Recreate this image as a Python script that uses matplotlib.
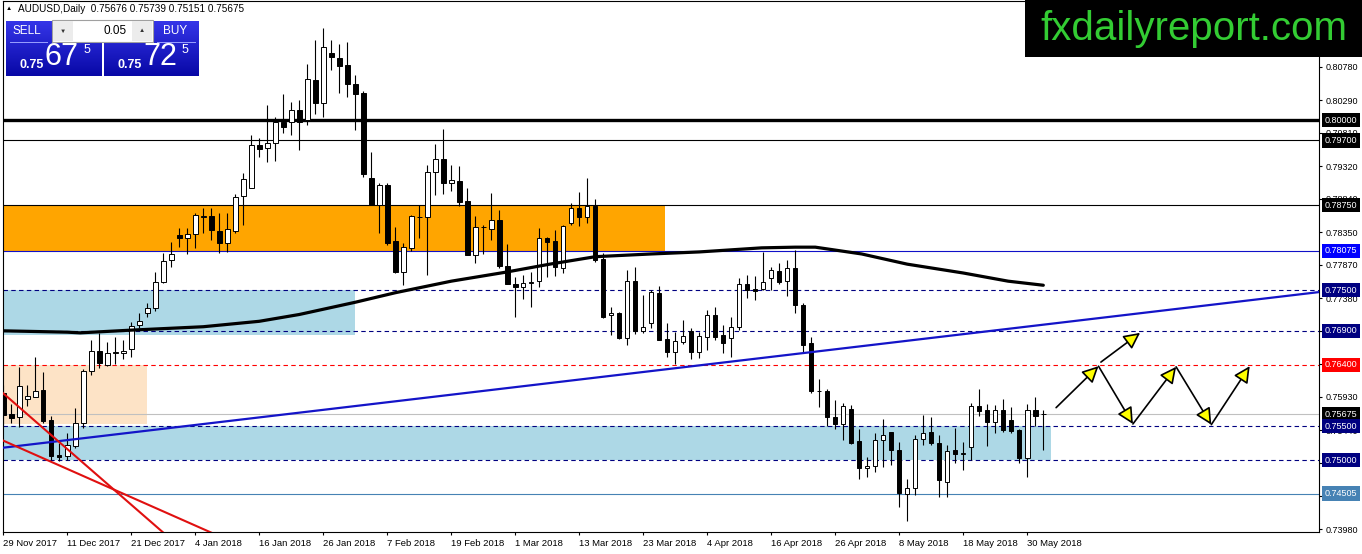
import numpy as np
import matplotlib.pyplot as plt
from matplotlib.patches import Rectangle, FancyArrowPatch
from matplotlib.colors import LinearSegmentedColormap

plt.rcParams['font.family'] = ['Liberation Sans', 'DejaVu Sans']

# AUDUSD daily candles, 29 Nov 2017 .. 1 Jun 2018
opens = [0.7599, 0.7568, 0.7563, 0.7590, 0.7593, 0.7603, 0.7559, 0.7507, 0.7506, 0.7521,
         0.7554, 0.7631, 0.7660, 0.7640, 0.7658, 0.7657, 0.7663, 0.7699, 0.7716, 0.7724,
         0.7762, 0.7794, 0.7831, 0.7827, 0.7832, 0.7858, 0.7859, 0.7837, 0.7819, 0.7837,
         0.7888, 0.7900, 0.7963, 0.7959, 0.7966, 0.7997, 0.7997, 0.8015, 0.8000, 0.8059,
         0.8025, 0.8099, 0.8091, 0.8081, 0.8053, 0.8040, 0.7915, 0.7875, 0.7904, 0.7822,
         0.7776, 0.7812, 0.7857, 0.7857, 0.7924, 0.7943, 0.7907, 0.7910, 0.7881, 0.7801,
         0.7843, 0.7840, 0.7853, 0.7785, 0.7759, 0.7754, 0.7761, 0.7763, 0.7827, 0.7822,
         0.7782, 0.7849, 0.7871, 0.7857, 0.7874, 0.7796, 0.7713, 0.7716, 0.7679, 0.7763,
         0.7690, 0.7701, 0.7746, 0.7678, 0.7659, 0.7673, 0.7690, 0.7659, 0.7681, 0.7713,
         0.7684, 0.7679, 0.7696, 0.7759, 0.7751, 0.7751, 0.7768, 0.7778, 0.7763, 0.7782,
         0.7728, 0.7672, 0.7602, 0.7601, 0.7563, 0.7553, 0.7575, 0.7528, 0.7488, 0.7491,
         0.7529, 0.7541, 0.7515, 0.7450, 0.7459, 0.7531, 0.7541, 0.7525, 0.7468, 0.7515,
         0.7509, 0.7519, 0.7579, 0.7574, 0.7556, 0.7574, 0.7559, 0.7544, 0.7503, 0.7574,
         0.75676]
highs = [0.7610, 0.7582, 0.7637, 0.7610, 0.7651, 0.7629, 0.7565, 0.7525, 0.7540, 0.7576,
         0.7634, 0.7676, 0.7687, 0.7674, 0.7681, 0.7676, 0.7703, 0.7716, 0.7731, 0.7777,
         0.7804, 0.7821, 0.7841, 0.7841, 0.7863, 0.7871, 0.7871, 0.7863, 0.7863, 0.7891,
         0.7922, 0.7978, 0.7974, 0.8022, 0.8004, 0.8038, 0.8026, 0.8029, 0.8082, 0.8118,
         0.8135, 0.8118, 0.8112, 0.8115, 0.8066, 0.8043, 0.7953, 0.7907, 0.7907, 0.7843,
         0.7819, 0.7860, 0.7875, 0.7934, 0.7965, 0.7987, 0.7934, 0.7932, 0.7900, 0.7859,
         0.7846, 0.7893, 0.7868, 0.7818, 0.7769, 0.7772, 0.7777, 0.7841, 0.7828, 0.7838,
         0.7846, 0.7878, 0.7894, 0.7915, 0.7884, 0.7804, 0.7725, 0.7718, 0.7779, 0.7784,
         0.7743, 0.7750, 0.7756, 0.7701, 0.7688, 0.7706, 0.7694, 0.7688, 0.7721, 0.7725,
         0.7699, 0.7710, 0.7768, 0.7772, 0.7771, 0.7806, 0.7784, 0.7790, 0.7794, 0.7809,
         0.7731, 0.7681, 0.7619, 0.7604, 0.7588, 0.7584, 0.7581, 0.7546, 0.7504, 0.7540,
         0.7560, 0.7541, 0.7527, 0.7472, 0.7537, 0.7566, 0.7563, 0.7537, 0.7522, 0.7547,
         0.7527, 0.7584, 0.7604, 0.7582, 0.7581, 0.7590, 0.7578, 0.7546, 0.7582, 0.7593,
         0.75739]
lows = [0.7551, 0.7554, 0.7549, 0.7579, 0.7592, 0.7554, 0.7500, 0.7499, 0.7500, 0.7518,
        0.7547, 0.7625, 0.7635, 0.7638, 0.7641, 0.7649, 0.7651, 0.7694, 0.7710, 0.7719,
        0.7760, 0.7784, 0.7813, 0.7803, 0.7812, 0.7834, 0.7824, 0.7804, 0.7806, 0.7834,
        0.7846, 0.7900, 0.7946, 0.7938, 0.7940, 0.7981, 0.7978, 0.7956, 0.7993, 0.8009,
        0.8004, 0.8074, 0.8040, 0.8034, 0.7985, 0.7916, 0.7875, 0.7834, 0.7816, 0.7775,
        0.7757, 0.7807, 0.7826, 0.7772, 0.7890, 0.7891, 0.7896, 0.7874, 0.7801, 0.7790,
        0.7803, 0.7824, 0.7782, 0.7759, 0.7710, 0.7737, 0.7725, 0.7754, 0.7769, 0.7771,
        0.7775, 0.7846, 0.7844, 0.7849, 0.7791, 0.7709, 0.7684, 0.7678, 0.7669, 0.7685,
        0.7687, 0.7694, 0.7676, 0.7651, 0.7641, 0.7671, 0.7649, 0.7650, 0.7662, 0.7676,
        0.7657, 0.7651, 0.7691, 0.7738, 0.7735, 0.7750, 0.7750, 0.7759, 0.7741, 0.7716,
        0.7657, 0.7599, 0.7578, 0.7550, 0.7546, 0.7529, 0.7524, 0.7472, 0.7475, 0.7482,
        0.7490, 0.7493, 0.7431, 0.7410, 0.7449, 0.7522, 0.7522, 0.7446, 0.7446, 0.7496,
        0.7485, 0.7500, 0.7565, 0.7521, 0.7540, 0.7541, 0.7540, 0.7496, 0.7475, 0.7550,
        0.75151]
closes = [0.7566, 0.7562, 0.7609, 0.7594, 0.7601, 0.7557, 0.7506, 0.7504, 0.7522, 0.7554,
          0.7631, 0.7660, 0.7643, 0.7657, 0.7659, 0.7660, 0.7697, 0.7704, 0.7724, 0.7762,
          0.7793, 0.7803, 0.7827, 0.7832, 0.7860, 0.7859, 0.7838, 0.7819, 0.7840, 0.7887,
          0.7913, 0.7963, 0.7957, 0.7966, 0.7997, 0.7990, 0.8015, 0.7997, 0.8060, 0.8025,
          0.8107, 0.8093, 0.8079, 0.8053, 0.8038, 0.7921, 0.7875, 0.7904, 0.7819, 0.7776,
          0.7813, 0.7859, 0.7858, 0.7924, 0.7943, 0.7907, 0.7912, 0.7879, 0.7801, 0.7843,
          0.7842, 0.7853, 0.7785, 0.7759, 0.7754, 0.7760, 0.7762, 0.7827, 0.7821, 0.7784,
          0.7844, 0.7871, 0.7857, 0.7874, 0.7794, 0.7710, 0.7716, 0.7679, 0.7763, 0.7690,
          0.7696, 0.7747, 0.7676, 0.7659, 0.7675, 0.7682, 0.7659, 0.7682, 0.7713, 0.7681,
          0.7672, 0.7696, 0.7759, 0.7750, 0.7749, 0.7762, 0.7779, 0.7762, 0.7782, 0.7728,
          0.7669, 0.7601, 0.7601, 0.7563, 0.7553, 0.7579, 0.7525, 0.7488, 0.7491, 0.7529,
          0.7537, 0.7515, 0.7451, 0.7459, 0.7531, 0.7540, 0.7525, 0.7471, 0.7513, 0.7509,
          0.7510, 0.7579, 0.7572, 0.7556, 0.7574, 0.7544, 0.7543, 0.7503, 0.7574, 0.7565,
          0.75675]

date_labels = ['29 Nov 2017', '11 Dec 2017', '21 Dec 2017', '4 Jan 2018', '16 Jan 2018',
               '26 Jan 2018', '7 Feb 2018', '19 Feb 2018', '1 Mar 2018', '13 Mar 2018',
               '23 Mar 2018', '4 Apr 2018', '16 Apr 2018', '26 Apr 2018', '8 May 2018',
               '18 May 2018', '30 May 2018']
date_label_bars = list(range(0, 129, 8))

price_ticks = [0.8078, 0.8029, 0.7981, 0.7932, 0.7884, 0.7835, 0.7787, 0.7738,
               0.7690, 0.7641, 0.7593, 0.7544, 0.7496, 0.7447, 0.7398]

# moving average, sampled along the drawn curve
ma_bars = [-0.1, 8, 9.6, 16, 25, 32, 37, 44, 49, 56, 62.7, 68.3, 74, 81, 87,
           94.8, 99, 101.5, 107.3, 113, 120, 125.6, 130]
ma_values = [0.7690, 0.7688, 0.7687, 0.7691, 0.7696, 0.7704, 0.7714, 0.7732, 0.7746,
             0.7763, 0.7776, 0.7788, 0.7799, 0.7803, 0.7806, 0.7812, 0.7813, 0.7813,
             0.7803, 0.7788, 0.7775, 0.7763, 0.7757]

# horizontal levels
levels = [0.8000, 0.7970, 0.7875, 0.78075, 0.7750, 0.7690, 0.7640, 0.75675, 0.7550, 0.7500, 0.74505]
level_colors = ['black', 'black', 'black', '#1010c8', '#000080', '#000080', '#ff0000',
                '#c0c0c0', '#000080', '#000080', '#4682b4']
level_styles = ['-', '-', '-', '-', '--', '--', '--', '-', '--', '--', '-']
level_widths = [2.4, 0.8, 0.8, 0.8, 0.8, 0.8, 0.8, 0.8, 0.8, 0.8, 0.8]
label_bg = ['black', 'black', 'black', '#0000ff', '#000080', '#000080', '#ff0000',
            'black', '#000080', '#000080', '#4682b4']

# shaded zones
zone_ends = [82.7, 44.0, 18.0, 131.0]
zone_tops = [0.7875, 0.7750, 0.7640, 0.7550]
zone_bottoms = [0.78075, 0.7684, 0.7553, 0.7500]
zone_colors = ['#ffa500', '#add8e6', '#fde3c6', '#add8e6']

# trend lines (bar, price) end points
blue_line = ([-0.1, 164.5], [0.7518, 0.7747])
red_lines = [([-0.1, 21.0], [0.7599, 0.7383]),
             ([-0.1, 27.0], [0.7529, 0.7388])]

# projected zig-zag arrows
arrow_x0 = [131.6, 137.2, 136.9, 141.2, 146.6, 151.0]
arrow_y0 = [0.7577, 0.7644, 0.7638, 0.7553, 0.7637, 0.7552]
arrow_x1 = [136.9, 142.1, 141.2, 146.6, 151.0, 155.8]
arrow_y1 = [0.7638, 0.7687, 0.7553, 0.7637, 0.7552, 0.7638]

W, H = 1362, 554
fig = plt.figure(figsize=(W / 100, H / 100), dpi=100)
ax = fig.add_axes([2.5 / W, (H - 532.3) / H, (1319.3 - 2.5) / W, (532.3 - 1) / H])

for end, top, bot, col in zip(zone_ends, zone_tops, zone_bottoms, zone_colors):
    ax.add_patch(Rectangle((-5, bot), end + 5, top - bot, fc=col, ec='none', zorder=1))

for lv, col, ls, lw in zip(levels, level_colors, level_styles, level_widths):
    ax.axhline(lv, color=col, ls=ls, lw=lw, dashes=(4, 3) if ls == '--' else (None, None), zorder=2)

o = np.array(opens)
c = np.array(closes)
x = np.arange(len(o))
up = c >= o
ax.vlines(x, lows, highs, color='black', lw=0.8, zorder=3)
ax.bar(x, np.maximum(np.abs(c - o), 1e-6), bottom=np.minimum(o, c), width=0.55,
       color=np.where(up, 'white', 'black'), edgecolor='black', linewidth=0.7, zorder=4)

ax.plot(ma_bars, ma_values, color='black', lw=2.3, solid_capstyle='round', zorder=5)
ax.plot(blue_line[0], blue_line[1], color='#1414c8', lw=1.6, zorder=5)
for bx, by in red_lines:
    ax.plot(bx, by, color='#e01010', lw=1.5, zorder=5)

for a, b, cc, d in zip(arrow_x0, arrow_y0, arrow_x1, arrow_y1):
    ax.add_patch(FancyArrowPatch((a, b), (cc, d), arrowstyle='-|>,head_length=0.9,head_width=0.45',
                                 mutation_scale=11, fc='yellow', ec='black', lw=1.2,
                                 shrinkA=0, shrinkB=0, zorder=6))

ax.set_xlim(-0.1, 164.5)
ax.set_ylim(0.73937, 0.8175)

ax.yaxis.tick_right()
ax.set_yticks(price_ticks)
ax.set_yticklabels([f'{p:.5f}' for p in price_ticks])
ax.tick_params(axis='y', length=2.5, pad=2, labelsize=6.5, width=0.8)
ax.set_xticks(date_label_bars)
ax.set_xticklabels(date_labels)
ax.tick_params(axis='x', length=2.5, pad=2.5, labelsize=6.8, width=0.8)
for lbl in ax.get_xticklabels():
    lbl.set_ha('left')
for sp in ax.spines.values():
    sp.set_linewidth(0.8)

for lv, bg in zip(levels, label_bg):
    ax.text((1325 - 2.5) / 1316.8, lv, f'{lv:.5f}', transform=ax.get_yaxis_transform(),
            ha='left', va='center', fontsize=6.5, color='white', clip_on=False, zorder=10,
            bbox=dict(boxstyle='square,pad=0.3', fc=bg, ec='none'))

# overlay in pixel units for the terminal widgets
ov = fig.add_axes([0, 0, 1, 1], zorder=20)
ov.axis('off')

blue_cmap = LinearSegmentedColormap.from_list('panel', ['#3535e8', '#0808a6'])
grad = np.linspace(0, 1, 64).reshape(-1, 1)
for x0, x1 in [(6, 102), (104, 199)]:
    ov.imshow(grad, cmap=blue_cmap, extent=(x0, x1, 76, 21), aspect='auto', zorder=1)

ov.add_patch(Rectangle((52, 20), 101, 22, fc='white', ec='#a0a0a0', lw=0.8, zorder=2))
ov.add_patch(Rectangle((53, 21), 20, 20, fc='#ececec', ec='none', zorder=2))
ov.add_patch(Rectangle((132, 21), 20, 20, fc='#ececec', ec='none', zorder=2))
ov.text(63, 31, '▼', fontsize=4.5, ha='center', va='center', color='#333333', zorder=3)
ov.text(142, 31, '▲', fontsize=4.5, ha='center', va='center', color='#333333', zorder=3)
ov.text(127, 31, '0.05', fontsize=8.5, ha='right', va='center', color='black', zorder=3)

ov.plot([10, 47], [42, 42], color='#9aa0ff', lw=0.7, zorder=3)
ov.plot([157, 195], [42, 42], color='#9aa0ff', lw=0.7, zorder=3)
ov.text(27, 31, 'SELL', fontsize=8.5, ha='center', va='center', color='white', zorder=3)
ov.text(175, 31, 'BUY', fontsize=8.5, ha='center', va='center', color='white', zorder=3)
for cx, small, big, sup in [(0, '0.75', '67', '5'), (98, '0.75', '72', '5')]:
    ov.text(32 + cx, 65, small, fontsize=9, fontweight='bold', ha='center', va='center',
            color='white', zorder=3)
    ov.text(62 + cx, 57, big, fontsize=22, ha='center', va='center', color='white', zorder=3)
    ov.text(87 + cx, 50, sup, fontsize=9, ha='center', va='center', color='white', zorder=3)

ov.text(6, 9, '▲', fontsize=4.5, ha='left', va='center', color='black')
ov.text(18, 9, 'AUDUSD,Daily  0.75676 0.75739 0.75151 0.75675', fontsize=7.2,
        ha='left', va='center', color='black')

ov.add_patch(Rectangle((1025, 0), 337, 57, fc='black', ec='none', zorder=2))
ov.text(1194, 29, 'fxdailyreport.com', fontsize=29, ha='center', va='center',
        color='#33cc33', zorder=3)

ov.set_xlim(0, W)
ov.set_ylim(H, 0)

fig.savefig('out.png', dpi=100)
